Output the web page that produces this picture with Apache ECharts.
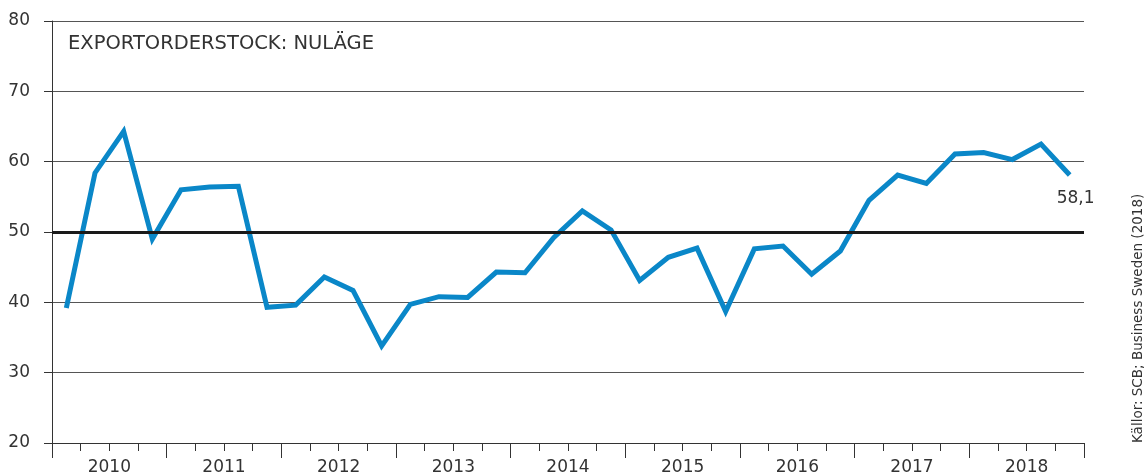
<!DOCTYPE html>
<html>
<head>
<meta charset="utf-8">
<script src="https://cdn.jsdelivr.net/npm/echarts@6/dist/echarts.min.js"></script>
<style>
html,body{margin:0;padding:0;background:#fff;}
#chart{width:1145px;height:476px;}
</style>
</head>
<body>
<div id="chart"></div>
<script>
var years = ['2010','2011','2012','2013','2014','2015','2016','2017','2018'];
var quarters = [
  '2010K1','2010K2','2010K3','2010K4',
  '2011K1','2011K2','2011K3','2011K4',
  '2012K1','2012K2','2012K3','2012K4',
  '2013K1','2013K2','2013K3','2013K4',
  '2014K1','2014K2','2014K3','2014K4',
  '2015K1','2015K2','2015K3','2015K4',
  '2016K1','2016K2','2016K3','2016K4',
  '2017K1','2017K2','2017K3','2017K4',
  '2018K1','2018K2','2018K3','2018K4'
];
var exportOrderStock = [
  39.2, 58.4, 64.3, 49.0,
  56.0, 56.4, 56.5, 39.3,
  39.6, 43.6, 41.7, 33.8,
  39.7, 40.8, 40.7, 44.3,
  44.2, 49.2, 53.0, 50.3,
  43.1, 46.4, 47.7, 38.7,
  47.6, 48.0, 44.0, 47.3,
  54.5, 58.1, 56.9, 61.1,
  61.3, 60.3, 62.5, 58.1
];
var yTicks = [20, 30, 40, 50, 60, 70, 80];
var titleText = 'EXPORTORDERSTOCK: NULÄGE';
var sourceText = 'Källor: SCB; Business Sweden (2018)';

var FONT = 'DejaVu Sans';
var TXT = '#333333';
var lastIdx = exportOrderStock.length - 1;

var chart = echarts.init(document.getElementById('chart'), null, {renderer: 'canvas'});
chart.setOption({
  animation: false,
  backgroundColor: '#ffffff',
  grid: {left: 52, right: 61, top: 21, bottom: 33, containLabel: false},
  xAxis: [
    {
      type: 'category',
      data: quarters,
      boundaryGap: true,
      position: 'bottom',
      axisLine: {show: true, lineStyle: {color: '#333', width: 1}},
      axisTick: {show: true, interval: 0, length: 8, lineStyle: {color: '#333', width: 1}},
      axisLabel: {show: false},
      splitLine: {show: false}
    },
    {
      type: 'category',
      data: years,
      boundaryGap: true,
      position: 'bottom',
      axisLine: {show: false},
      axisTick: {show: true, interval: 0, length: 15, lineStyle: {color: '#333', width: 1}},
      axisLabel: {show: true, interval: 0, margin: 16, color: TXT, fontFamily: FONT, fontSize: 17},
      splitLine: {show: false}
    }
  ],
  yAxis: {
    type: 'value',
    min: yTicks[0],
    max: yTicks[yTicks.length - 1],
    interval: 10,
    axisLine: {show: true, lineStyle: {color: '#333', width: 1}},
    axisTick: {show: true, length: 8, lineStyle: {color: '#333', width: 1}},
    axisLabel: {margin: 22, color: TXT, fontFamily: FONT, fontSize: 17},
    splitLine: {show: true, lineStyle: {color: '#555', width: 1}}
  },
  series: [{
    type: 'line',
    xAxisIndex: 0,
    data: exportOrderStock,
    showSymbol: false,
    symbol: 'none',
    lineStyle: {color: '#0a87c8', width: 5, join: 'miter'},
    itemStyle: {color: '#0a87c8'},
    markLine: {
      silent: true,
      symbol: ['none', 'none'],
      label: {show: false},
      lineStyle: {color: '#1a1a1a', width: 3, type: 'solid'},
      data: [{yAxis: 50}]
    },
    markPoint: {
      silent: true,
      symbol: 'circle',
      symbolSize: 0,
      itemStyle: {color: 'rgba(0,0,0,0)'},
      label: {
        show: true,
        position: 'bottom',
        distance: 5,
        offset: [6, 10],
        color: TXT,
        fontFamily: FONT,
        fontSize: 17,
        formatter: function (p) { return String(p.value).replace('.', ','); }
      },
      data: [{coord: [quarters[lastIdx], exportOrderStock[lastIdx]], value: exportOrderStock[lastIdx]}]
    },
    z: 3
  }],
  graphic: [
    {
      type: 'text',
      x: 68, y: 44,
      style: {text: titleText, fill: TXT, font: '19.5px "' + FONT + '"', textAlign: 'left', textVerticalAlign: 'middle'}
    },
    {
      type: 'text',
      x: 1138, y: 443,
      rotation: Math.PI / 2,
      style: {text: sourceText, fill: TXT, font: '13.5px "' + FONT + '"', textAlign: 'left', textVerticalAlign: 'middle'}
    }
  ]
});
</script>
</body>
</html>
